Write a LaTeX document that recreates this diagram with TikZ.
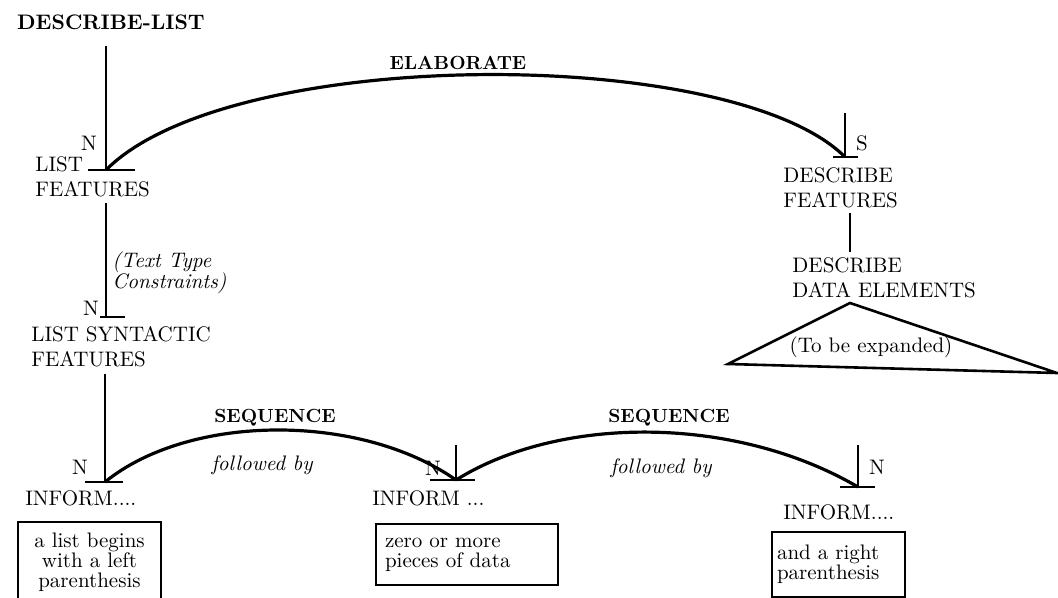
\documentclass[tikz,border=0pt]{standalone}
\usetikzlibrary{positioning,calc}

\begin{document}
\begin{tikzpicture}[
      x=0.5pt, y=-0.5pt,
      font=\fontsize{10.5}{12.5}\selectfont,
      lab/.style={inner sep=0pt, align=left},
      title/.style={inner sep=0pt, font=\fontsize{10.5}{12.5}\selectfont\bfseries},
      rel/.style={inner sep=0pt, font=\fontsize{9.5}{11}\selectfont\bfseries},
      sat/.style={inner sep=0pt, align=left, font=\fontsize{10.5}{10.5}\selectfont\itshape},
      box/.style={draw, line width=1.1pt, inner ysep=0pt, font=\fontsize{10.5}{10}\selectfont},
      stem/.style={line width=1.1pt},
      tick/.style={line width=1.1pt},
      arc/.style={line width=1.6pt}
    ]
    \useasboundingbox (0,0) rectangle (1058,598);

    \node[title] (title) at (111,22) {DESCRIBE-LIST};

    % nucleus and satellite points
    \coordinate (top)  at (106,46);
    \coordinate (lf)   at (106,170);
    \coordinate (ls)   at (106,317);
    \coordinate (inf1) at (105,482);
    \coordinate (top2) at (456,445);
    \coordinate (inf2) at (456,480);
    \coordinate (top3) at (858,445);
    \coordinate (inf3) at (858,487);
    \coordinate (topd) at (845,113);
    \coordinate (df)   at (845,157);
    \coordinate (tri)  at (850,303);
    \coordinate (triL) at (728,364);
    \coordinate (triR) at (1057,373);

    \node[lab, anchor=west] (lfeat) at (35,177)  {LIST\\FEATURES};
    \node[lab, anchor=west] (lsyn)  at (31,347)  {LIST SYNTACTIC\\FEATURES};
    \node[lab, anchor=west] (i1)    at (25,498)  {INFORM....};
    \node[lab, anchor=west] (i2)    at (372,498) {INFORM ...};
    \node[lab, anchor=west] (i3)    at (783,512) {INFORM....};
    \node[lab, anchor=west] (dfeat) at (783,188) {DESCRIBE\\FEATURES};
    \node[lab, anchor=west] (dde)   at (792,278) {DESCRIBE\\DATA ELEMENTS};

    \node[lab] (n1) at (89,143) {N};
    \node[lab] (n2) at (91,308) {N};
    \node[lab] (n3) at (80,467) {N};
    \node[lab] (n4) at (433,468) {N};
    \node[lab] (n5) at (877,467) {N};
    \node[lab] (s1) at (862,143) {S};

    \node[sat, anchor=west] (ttc) at (112,273) {(Text Type\\Constraints)};
    \node[sat] (fb1) at (262,465) {followed by};
    \node[sat] (fb2) at (661,468) {followed by};

    \node[rel] (elab) at (458,63)  {ELABORATE};
    \node[rel] (seq1) at (275,418) {SEQUENCE};
    \node[rel] (seq2) at (669,418) {SEQUENCE};

    \node[box, align=center, inner xsep=2pt, minimum width=71.5pt, minimum height=40pt]
      (b1) at (89.5,562) {a list begins\\with a left\\parenthesis};
    \node[box, align=left, inner xsep=4.5pt, text width=82pt, minimum height=30.5pt]
      (b2) at (467,554.5) {zero or more\\pieces of data};
    \node[box, align=left, inner xsep=2.5pt, text width=61.5pt, minimum height=32.5pt]
      (b3) at (838.5,564.5) {and a right\\parenthesis};

    \node[lab] (tbe) at (871,347) {(To be expanded)};

    % stems
    \draw[stem] (top) -- (lf);
    \draw[stem, shorten <=2.5pt] (lf |- lfeat.south) -- (ls);
    \draw[stem, shorten <=3pt] (inf1 |- lsyn.south) -- (inf1);
    \draw[stem] (top2) -- (inf2);
    \draw[stem] (top3) -- (inf3);
    \draw[stem] (topd) -- (df);
    \draw[stem, shorten <=2pt, shorten >=2.5pt] (tri |- dfeat.south) -- (tri |- dde.north);

    % ticks
    \draw[tick] (lf)   ++(-18,0) -- ++(47,0);
    \draw[tick] (ls)   ++(-6,0)  -- ++(25,0);
    \draw[tick] (inf1) ++(-20,0) -- ++(38,0);
    \draw[tick] (inf2) ++(-26,0) -- ++(45,0);
    \draw[tick] (inf3) ++(-18,0) -- ++(35,0);
    \draw[tick] (df)   ++(-12,0) -- ++(25,0);

    % relation arcs
    \draw[arc] (lf) .. controls (230,45) and (733,45) .. (df);
    \draw[arc] (inf1) .. controls (190,413) and (361,413) .. (inf2);
    \draw[arc] (inf2) .. controls (560,415) and (735,415) .. (inf3);

    \draw[line width=1.3pt, line join=miter] (tri) -- (triL) -- (triR) -- cycle;
  \end{tikzpicture}
\end{document}
